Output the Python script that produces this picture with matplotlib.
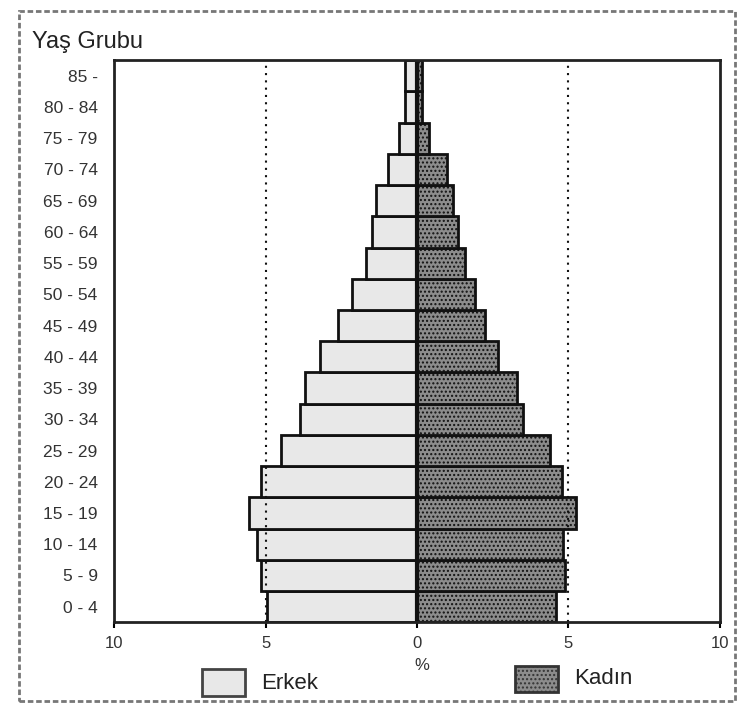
import matplotlib.pyplot as plt
from matplotlib.patches import Rectangle

plt.rcParams['font.family'] = ['Liberation Sans', 'DejaVu Sans']

age_groups = ["0 - 4", "5 - 9", "10 - 14", "15 - 19", "20 - 24", "25 - 29", "30 - 34",
              "35 - 39", "40 - 44", "45 - 49", "50 - 54", "55 - 59", "60 - 64",
              "65 - 69", "70 - 74", "75 - 79", "80 - 84", "85 -"]
erkek = [4.95, 5.15, 5.3, 5.55, 5.15, 4.5, 3.85, 3.7, 3.2, 2.6, 2.15,
         1.7, 1.5, 1.37, 0.95, 0.6, 0.4, 0.4]
kadin = [4.58, 4.9, 4.82, 5.25, 4.8, 4.4, 3.5, 3.3, 2.68, 2.25, 1.9,
         1.58, 1.37, 1.2, 1.0, 0.4, 0.15, 0.15]
x_ticks = [-10, -5, 0, 5, 10]
x_ticklabels = ["10", "5", "0", "5", "10"]

fig = plt.figure(figsize=(7.42, 7.08), dpi=100)
ax = fig.add_axes([0.154, 0.121, 0.816, 0.794])

y = list(range(len(age_groups)))
ax.barh(y, [-v for v in erkek], height=1.0, color="#e8e8e8",
        edgecolor="#111111", linewidth=2)
ax.barh(y, kadin, height=1.0, color="#8c8c8c", edgecolor="#111111",
        linewidth=2, hatch="....")

ax.axvline(0, color="#111111", linewidth=3)
for xv in (-5, 5):
    ax.axvline(xv, color="#111111", linewidth=1.5, linestyle=(0, (1, 2.5)))

ax.set_xlim(-10, 10)
ax.set_ylim(-0.5, len(age_groups) - 0.5)
ax.set_xticks(x_ticks)
ax.set_xticklabels(x_ticklabels, fontsize=12, color="#333333")
ax.set_yticks(y)
ax.set_yticklabels(age_groups, fontsize=12.5, color="#333333")
ax.tick_params(axis="y", length=0, pad=12)
ax.tick_params(axis="x", length=4, width=1.5, direction="out", pad=6)
for s in ax.spines.values():
    s.set_linewidth(2)
    s.set_color("#222222")

fig.text(0.043, 0.94, "Yaş Grubu", fontsize=17, color="#222222", va="center")
fig.text(0.569, 0.06, "%", fontsize=12, color="#333333", ha="center", va="center")

# legend
fig.patches.append(Rectangle((0.272, 0.017), 0.058, 0.038, transform=fig.transFigure,
                             facecolor="#e8e8e8", edgecolor="#444444", linewidth=2))
fig.text(0.352, 0.034, "Erkek", fontsize=16, color="#222222", va="center")
fig.patches.append(Rectangle((0.694, 0.022), 0.058, 0.038, transform=fig.transFigure,
                             facecolor="#8c8c8c", edgecolor="#333333", linewidth=2,
                             hatch="...."))
fig.text(0.774, 0.041, "Kadın", fontsize=16, color="#222222", va="center")

# scanned frame
fig.patches.append(Rectangle((0.025, 0.01), 0.965, 0.975, transform=fig.transFigure,
                             fill=False, edgecolor="#777777", linewidth=2,
                             linestyle=(0, (2, 1))))

fig.savefig("out.png", dpi=100)
